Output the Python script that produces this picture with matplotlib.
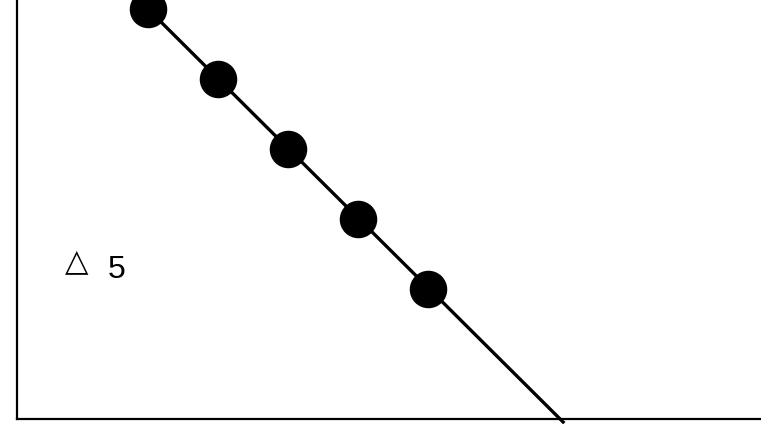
import matplotlib.pyplot as plt

# dots on the line
dot_x = [1, 2, 3, 4, 5]
dot_y = [5, 4, 3, 2, 1]
# the line runs past the last dot down through the x axis
line_x = [1, 6.93]
line_y = [5, -0.9]
label_sym = "\u25b3"
label_val = "5"

fig = plt.figure(figsize=(7.61, 4.24), dpi=100)
ax = fig.add_axes([17 / 761, 5 / 424, 1 - 17 / 761, 1 - 5 / 424])
ax.set_xlim(-0.871, 9.757)
ax.set_ylim(-0.857, 5.129)

ax.plot(line_x, line_y, color="black", lw=2.4, clip_on=False, zorder=2)
ax.plot(dot_x, dot_y, "o", color="black", markersize=26, zorder=3)

ax.text(-0.014, 1.271, label_sym, fontsize=22, family=["DejaVu Sans"],
        ha="center", va="baseline")
ax.text(0.55, 1.157, label_val, fontsize=23, family=["Liberation Sans"],
        ha="center", va="baseline")

for s in ("top", "right"):
    ax.spines[s].set_visible(False)
for s in ("left", "bottom"):
    ax.spines[s].set_linewidth(1.6)
ax.set_xticks([])
ax.set_yticks([])

fig.savefig("out.png", dpi=100)
